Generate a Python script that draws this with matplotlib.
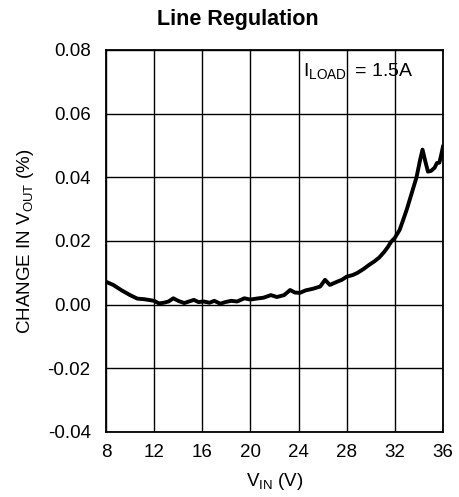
import matplotlib
matplotlib.use("Agg")
import matplotlib.pyplot as plt

plt.rcParams.update({
    "font.family": ["Liberation Sans", "DejaVu Sans"],
    "font.size": 13,
    "mathtext.fontset": "custom",
    "mathtext.rm": "Liberation Sans",
    "mathtext.it": "Liberation Sans:italic",
    "mathtext.bf": "Liberation Sans:bold",
})

# data
vin = [8.0, 8.6, 9.3, 10.0, 10.6, 11.2, 12.0, 12.4, 12.8, 13.2, 13.6, 14.0,
       14.5, 14.9, 15.3, 15.7, 16.1, 16.6, 17.0, 17.5, 17.9, 18.4, 18.9,
       19.5, 20.0, 20.5, 21.1, 21.7, 22.2, 22.8, 23.3, 23.7, 24.1, 24.6,
       25.2, 25.8, 26.2, 26.6, 27.2, 27.6, 28.0, 28.5, 28.9, 29.4, 29.9,
       30.3, 30.7, 31.1, 31.4, 31.7, 32.0, 32.4, 32.7, 33.0, 33.4, 33.8,
       34.1, 34.3, 34.5, 34.75, 35.0, 35.3, 35.5, 35.7, 35.85, 36.0]
dvout = [0.0072, 0.0062, 0.0045, 0.0030, 0.0019, 0.0017, 0.0012, 0.0004,
         0.0006, 0.0010, 0.0020, 0.0012, 0.0005, 0.0010, 0.0015, 0.0008,
         0.0010, 0.0006, 0.0012, 0.0003, 0.0008, 0.0012, 0.0010, 0.0020,
         0.0016, 0.0019, 0.0022, 0.0030, 0.0024, 0.0030, 0.0046, 0.0038,
         0.0037, 0.0045, 0.0050, 0.0057, 0.0078, 0.0062, 0.0072, 0.0078,
         0.0088, 0.0093, 0.0100, 0.0112, 0.0126, 0.0136, 0.0148, 0.0165,
         0.0180, 0.0198, 0.0210, 0.0235, 0.0267, 0.0300, 0.0350, 0.0400,
         0.0455, 0.0487, 0.0455, 0.0418, 0.0420, 0.0430, 0.0445, 0.0446,
         0.0470, 0.0496]

x_ticks = [8, 12, 16, 20, 24, 28, 32, 36]
y_ticks = [-0.04, -0.02, 0.00, 0.02, 0.04, 0.06, 0.08]

fig = plt.figure(figsize=(4.60, 4.97), dpi=100)
ax = fig.add_axes([0.2304, 0.1308, 0.7326, 0.7686])

ax.plot(vin, dvout, color="black", linewidth=2.8, solid_joinstyle="round", zorder=3)

ax.set_xlim(8, 36)
ax.set_ylim(-0.04, 0.08)
ax.set_xticks(x_ticks)
ax.set_yticks(y_ticks)
ax.set_yticklabels([f"{v:.2f}" for v in y_ticks])
ax.grid(True, color="black", linewidth=1.0)
ax.tick_params(length=0, labelsize=13.5)
ax.tick_params(axis="y", pad=11)
ax.tick_params(axis="x", pad=9)
for s in ax.spines.values():
    s.set_linewidth(1.3)

ax.set_xlabel(r"V$_{\mathrm{IN}}$ (V)", fontsize=13.5, labelpad=7)
ax.set_ylabel(r"CHANGE IN V$_{\mathrm{OUT}}$ (%)", fontsize=13.5, labelpad=8)
fig.text(238 / 460, 1 - 20 / 497, "Line Regulation", fontsize=15.5,
         fontweight="bold", ha="center", va="center")

ax.text(24.35, 0.0735, r"I$_{\mathrm{LOAD}}\,$ = 1.5A", fontsize=14, va="center", ha="left")

fig.savefig("out.png", dpi=100)
